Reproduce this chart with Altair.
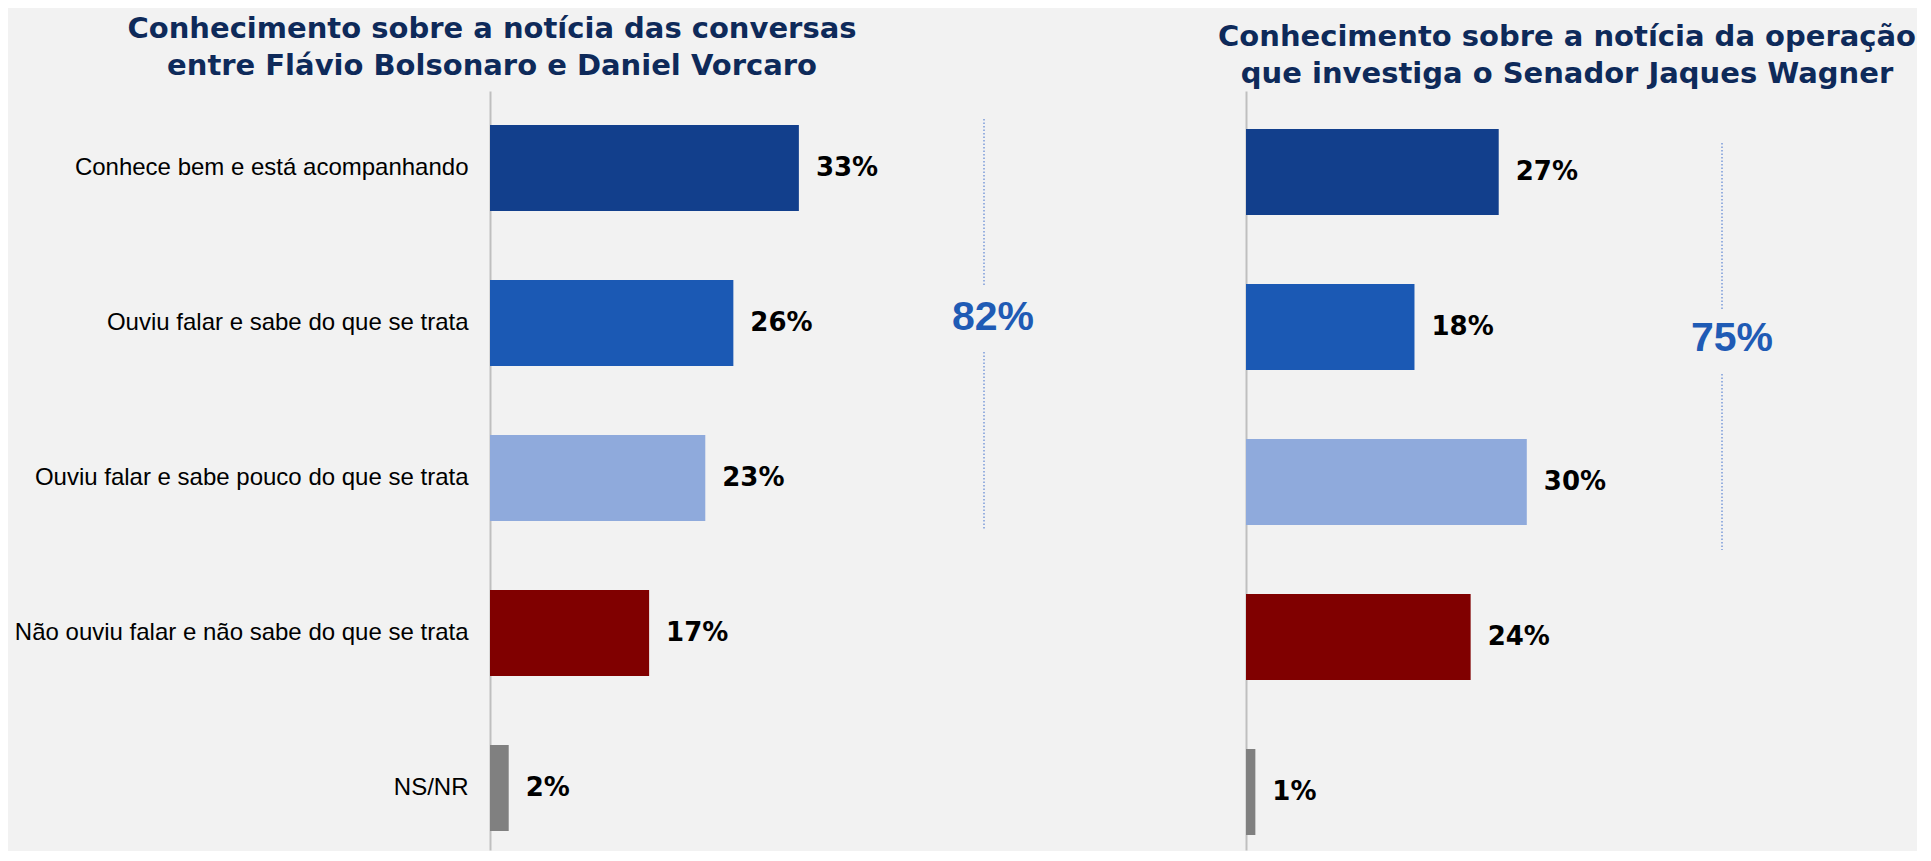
import altair as alt
import pandas as pd

categories = [
    "Conhece bem e está acompanhando",
    "Ouviu falar e sabe do que se trata",
    "Ouviu falar e sabe pouco do que se trata",
    "Não ouviu falar e não sabe do que se trata",
    "NS/NR",
]
left_values = [33, 26, 23, 17, 2]
right_values = [27, 18, 30, 24, 1]
left_title = ["Conhecimento sobre a notícia das conversas", "entre Flávio Bolsonaro e Daniel Vorcaro"]
right_title = ["Conhecimento sobre a notícia da operação", "que investiga o Senador Jaques Wagner"]
bar_colors = ["#123f8c", "#1b59b4", "#8faadc", "#800000", "#808080"]

PANEL_H = 759


def panel(values, title, width, xmax, show_labels, align, title_dx, title_dy,
          rule_x, segments, ann_x, ann_y):
    df = pd.DataFrame({"cat": categories, "val": values,
                       "label": [f"{v}%" for v in values]})
    y = alt.Y("cat:N", sort=categories,
              scale=alt.Scale(paddingInner=0.445, paddingOuter=0.171, align=align),
              axis=alt.Axis(title=None, labels=show_labels, ticks=False, domain=True,
                            domainColor="#bfbfbf", domainWidth=2,
                            labelFont="Liberation Sans", labelFontSize=24,
                            labelColor="#000000", labelPadding=22, labelLimit=700,
                            grid=False))
    x = alt.X("val:Q", scale=alt.Scale(domain=[0, xmax], nice=False, zero=True), axis=None)
    base = alt.Chart(df)
    bars = base.mark_bar().encode(
        x=x, y=y,
        color=alt.Color("cat:N", scale=alt.Scale(domain=categories, range=bar_colors), legend=None),
    )
    labels = base.mark_text(align="left", baseline="middle", dx=17, font="DejaVu Sans",
                            fontWeight="bold", fontSize=26, color="#000000").encode(
        x=x, y=y, text="label:N")
    total = sum(values[:3])
    one = alt.Chart(pd.DataFrame({"t": [f"{total}%"]}))
    layers = [bars, labels]
    for (y1, y2) in segments:
        layers.append(one.mark_rule(color="#3f6fcc", strokeWidth=1, strokeDash=[1.5, 2]).encode(
            x=alt.value(rule_x), y=alt.value(y1), y2=alt.value(y2)))
    layers.append(one.mark_text(align="center", baseline="middle", font="Liberation Sans",
                                fontWeight="bold", fontSize=41, color="#1f5bb5").encode(
        x=alt.value(ann_x), y=alt.value(ann_y), text="t:N"))
    return alt.layer(*layers).properties(
        width=width, height=PANEL_H,
        title=alt.TitleParams(text=title, font="DejaVu Sans", fontSize=29, fontWeight="bold",
                              color="#0e2a5a", anchor="middle", dx=title_dx, dy=title_dy,
                              lineHeight=37, offset=10),
    )


left = panel(left_values, left_title, 756, 756 / 9.36, True, 0.64, -376, 0,
             494, [(28, 194), (261, 438)], 503, 227)
right = panel(right_values, right_title, 660, 660 / 9.36, False, 0.717, -9, 8,
              476, [(52, 218), (283, 459)], 486, 248)

chart = alt.hconcat(left, right, spacing=0, bounds="flush").resolve_scale(
    x="independent", y="independent", color="independent"
).properties(
    background="#f2f2f2",
    padding={"left": 5, "top": 6, "right": 0, "bottom": 0},
).configure_view(stroke="transparent")

chart.save("out.html", embed_options={"renderer": "svg", "actions": False})
